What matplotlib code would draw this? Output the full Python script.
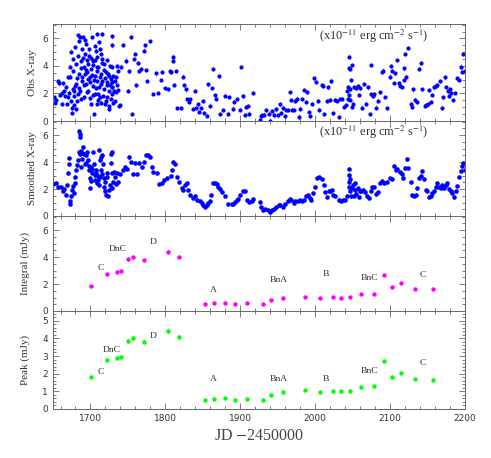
import matplotlib
matplotlib.use("Agg")
import matplotlib.pyplot as plt
from matplotlib.ticker import MultipleLocator

plt.rcParams['mathtext.fontset'] = 'stix'

# ---- observed X-ray flux (x1e-11 erg cm-2 s-1) ----
obs_jd = [
    1651.8, 1652.0, 1653.5, 1656.3, 1657.6, 1659.0, 1661.6, 1662.5, 1663.8, 1665.1,
    1666.0, 1666.9, 1668.2, 1669.6, 1670.5, 1671.4, 1672.7, 1672.7, 1673.5, 1674.0,
    1674.9, 1675.8, 1676.2, 1676.7, 1677.1, 1677.6, 1678.0, 1678.5, 1679.0, 1679.4,
    1680.3, 1680.8, 1681.2, 1681.6, 1682.0, 1683.0, 1683.5, 1683.9, 1684.4, 1684.8,
    1685.3, 1686.1, 1686.6, 1687.0, 1687.5, 1688.0, 1688.4, 1688.9, 1689.3, 1689.8,
    1690.6, 1691.1, 1691.6, 1692.0, 1692.5, 1692.9, 1693.3, 1693.7, 1694.2, 1694.6,
    1695.1, 1695.5, 1696.0, 1696.4, 1696.9, 1697.3, 1697.8, 1698.2, 1698.7, 1699.5,
    1699.9, 1700.4, 1700.9, 1701.3, 1701.8, 1702.2, 1702.7, 1703.1, 1703.6, 1704.0,
    1704.5, 1704.9, 1705.4, 1705.8, 1706.3, 1706.7, 1707.2, 1707.6, 1708.1, 1708.5,
    1709.0, 1709.3, 1709.3, 1709.3, 1710.2, 1710.7, 1710.7, 1711.6, 1711.6, 1712.1,
    1712.5, 1713.0, 1713.8, 1713.8, 1713.8, 1714.7, 1715.1, 1716.0, 1716.0, 1716.0,
    1716.9, 1717.4, 1718.3, 1718.3, 1719.2, 1719.6, 1720.5, 1720.5, 1721.4, 1722.2,
    1722.7, 1722.7, 1723.6, 1724.1, 1725.0, 1725.0, 1725.0, 1725.9, 1726.3, 1727.2,
    1727.2, 1728.1, 1728.5, 1728.5, 1729.4, 1729.4, 1729.4, 1729.4, 1730.3, 1730.7,
    1731.6, 1732.5, 1733.0, 1733.9, 1734.3, 1735.2, 1735.6, 1736.5, 1737.4, 1738.0,
    1739.2, 1740.6,
    1744.0, 1748.0, 1750.0, 1751.0, 1754.0, 1756.0, 1758.0, 1760.0, 1761.0, 1763.0,
    1765.0, 1767.0, 1771.0, 1773.0, 1774.0, 1776.0, 1780.0, 1783.0, 1788.0, 1790.0,
    1794.0, 1796.0, 1800.0, 1803.0, 1806.0, 1808.0, 1810.0, 1810.5, 1811.0, 1814.0,
    1815.0, 1821.0, 1824.0, 1825.0, 1827.0, 1829.0, 1831.0, 1833.0, 1837.0, 1840.0,
    1841.0, 1844.0, 1845.0, 1848.0, 1850.0, 1851.0, 1855.0, 1857.0, 1860.0, 1862.0,
    1864.0, 1866.0, 1868.0, 1871.0, 1873.0, 1877.0, 1880.0, 1883.0, 1885.0, 1890.0,
    1892.0, 1896.0, 1899.0, 1901.5, 1904.0, 1906.0, 1908.0, 1910.0, 1912.3, 1917.6,
    1925.7, 1927.5, 1929.2, 1931.9, 1934.6, 1937.7, 1940.0, 1942.2, 1944.4, 1947.5,
    1949.8, 1952.4, 1954.2, 1956.9, 1959.1, 1960.9, 1963.1, 1965.8, 1967.6, 1969.4,
    1972.1, 1973.4, 1975.6, 1978.8, 1980.1, 1982.8, 1985.5, 1988.1, 1989.0, 1991.3,
    1993.5, 1995.7, 1998.8, 2001.5, 2003.3, 2004.6, 2008.7, 2010.4, 2012.2, 2015.8,
    2017.6, 2020.2, 2021.1, 2023.8, 2026.0, 2029.2, 2031.4, 2033.6, 2035.9, 2038.1,
    2040.8, 2042.6, 2043.4, 2043.9, 2044.8, 2045.2, 2045.7, 2046.1, 2047.0, 2047.0,
    2047.9, 2049.2, 2049.2, 2050.6, 2052.4, 2055.0, 2056.8, 2058.2, 2059.5, 2062.6,
    2065.8, 2068.0, 2071.1, 2072.9, 2074.7, 2075.1, 2077.3, 2079.1, 2080.9, 2083.6,
    2087.2, 2089.4, 2091.2, 2093.0, 2096.1, 2099.7, 2101.4, 2102.8, 2105.0, 2107.2,
    2109.5, 2111.7, 2113.1, 2115.7, 2118.0, 2118.4, 2119.7, 2121.5, 2124.2, 2127.3,
    2128.7, 2130.4, 2133.6, 2136.2, 2138.9, 2141.2, 2143.0, 2146.1, 2147.8, 2150.5,
    2151.9, 2154.1, 2155.4, 2158.5, 2160.8, 2163.0, 2166.1, 2168.8, 2171.0, 2172.8,
    2175.1, 2177.3, 2178.6, 2180.0, 2181.7, 2184.4, 2186.7, 2189.8, 2192.0, 2194.2,
    2196.5, 2197.8, 2199.6,
]
obs_flux = [
    1.76, 1.32, 1.55, 2.88, 2.73, 1.90, 1.22, 2.05, 2.73, 2.20,
    1.83, 2.44, 1.22, 3.17, 1.71, 2.07, 3.95, 3.22, 5.05, 1.46,
    0.98, 0.61, 2.30, 4.50, 3.66, 2.20, 1.15, 1.83, 2.55, 5.37,
    2.68, 0.85, 4.15, 1.46, 3.10, 6.22, 1.95, 4.76, 2.40, 3.42,
    5.80, 6.10, 2.20, 3.85, 4.39, 1.60, 5.24, 2.90, 3.17, 4.60,
    6.10, 3.90, 2.60, 1.71, 3.40, 4.88, 5.90, 2.68, 3.70, 5.61,
    3.54, 2.10, 4.40, 4.15, 3.05, 2.20, 5.20, 4.76, 2.85, 3.17,
    1.65, 1.22, 3.78, 4.55, 6.10, 3.35, 2.56, 1.90, 4.05, 4.39,
    0.49, 2.95, 3.29, 5.45, 1.95, 4.45, 5.12, 2.40, 3.90, 1.22,
    3.60, 6.34, 4.63, 2.93, 1.55, 3.90, 1.95, 5.73, 2.44, 3.20,
    5.24, 1.75, 4.88, 3.42, 1.34, 2.70, 4.20, 6.29, 4.51, 2.93,
    1.83, 3.70, 4.15, 2.32, 1.20, 3.10, 3.54, 1.42, 2.60, 4.45,
    2.81, 1.71, 3.40, 0.85, 3.29, 2.20, 1.10, 2.65, 4.00, 3.05,
    1.59, 2.50, 6.15, 1.95, 5.49, 3.95, 2.81, 2.44, 1.30, 3.25,
    2.20, 1.46, 2.90, 3.17, 2.10, 2.60, 4.03, 2.25, 3.66, 1.07,
    1.17, 3.95,
    5.54, 4.39, 2.20, 3.60, 6.10, 0.49, 4.49, 4.88, 2.60, 4.20,
    3.63, 3.78, 5.12, 5.49, 3.70, 2.90, 5.80, 1.95, 3.46, 2.05,
    2.98, 3.54, 2.41, 2.29, 3.63, 3.56, 4.37, 4.68, 2.60, 3.63,
    0.93, 0.95, 3.22, 2.60, 2.29, 1.59, 1.41, 1.59, 0.88, 2.17,
    0.93, 1.20, 0.66, 0.95, 1.46, 0.56, 0.39, 2.66, 1.12, 2.41,
    3.78, 1.88, 1.63, 3.27, 0.49, 0.78, 1.85, 0.54, 1.76, 0.90,
    1.41, 1.61, 0.83, 3.93, 1.85, 0.44, 1.02, 1.07, 0.54, 2.05,
    0.05, 0.37, 0.41, 0.46, 0.78, 0.54, 0.03, 0.73, 0.41, 0.85,
    0.41, 1.20, 0.59, 0.98, 0.34, 0.78, 0.78, 2.12, 1.51, 0.83,
    0.78, 1.49, 1.63, 0.32, 0.90, 1.61, 2.24, 1.39, 2.12, 0.66,
    0.34, 1.27, 3.10, 2.85, 1.46, 0.83, 2.61, 2.54, 0.49, 1.46,
    2.44, 1.56, 2.93, 0.59, 1.56, 1.46, 0.29, 1.61, 1.63, 1.02,
    1.15, 2.20, 1.63, 2.44, 1.88, 4.68, 3.83, 3.76, 2.29, 1.51,
    2.98, 4.07, 1.02, 1.27, 2.44, 2.37, 2.54, 1.88, 2.37, 0.98,
    2.68, 1.27, 2.44, 0.49, 1.93, 4.05, 1.80, 1.93, 0.98, 1.46,
    2.12, 3.59, 3.66, 1.76, 0.95, 3.22, 4.00, 3.66, 2.78, 3.46,
    4.44, 2.73, 2.54, 2.49, 3.83, 2.98, 4.85, 3.22, 5.29, 1.27,
    1.02, 2.29, 1.56, 1.39, 3.76, 4.20, 2.29, 1.07, 1.15, 1.27,
    2.24, 1.39, 1.88, 2.44, 2.54, 2.61, 2.90, 0.98, 1.71, 3.17,
    2.49, 2.20, 1.80, 2.29, 2.05, 1.51, 2.05, 3.10, 2.98, 3.95,
    3.59, 4.88, 3.66,
]
obs_err = 0.16

# ---- smoothed X-ray flux ----
smooth_jd = [
    1650.0, 1653.6, 1656.7, 1660.3, 1663.4, 1665.0, 1667.0, 1669.2, 1670.1, 1671.0,
    1671.4, 1672.3, 1673.2, 1674.5, 1675.9, 1676.5, 1677.7, 1679.0, 1679.9, 1681.2,
    1682.1, 1683.0, 1684.4, 1684.8, 1685.7, 1685.7, 1686.6, 1687.9, 1689.3, 1690.1,
    1691.5, 1692.4, 1693.7, 1695.5, 1696.8, 1698.2, 1699.1, 1700.0, 1701.3, 1702.6,
    1703.5, 1704.9, 1706.2, 1708.0, 1708.9, 1710.2, 1711.6, 1712.5, 1713.8, 1714.7,
    1716.0, 1716.9, 1717.8, 1719.1, 1720.5, 1721.4, 1723.6, 1724.9, 1727.2, 1728.5,
    1729.4, 1730.3, 1732.5, 1734.8, 1737.4, 1739.2,
    1688.0, 1689.0, 1694.5, 1697.5, 1700.5, 1702.0, 1705.5, 1707.0, 1709.5, 1711.0,
    1713.0, 1715.5, 1718.5, 1720.0, 1722.5, 1726.0, 1727.8, 1729.0, 1731.0, 1733.5,
    1743.7, 1745.9, 1749.0, 1751.7, 1754.0, 1756.2, 1759.3, 1761.5, 1765.1, 1768.2,
    1771.3, 1774.0, 1777.1, 1779.4, 1781.6, 1782.9, 1788.3, 1791.9, 1795.0, 1798.1,
    1801.7, 1807.0, 1808.4, 1810.6, 1812.8, 1815.1, 1818.6, 1821.8, 1824.0, 1826.2,
    1828.4, 1830.7, 1832.9, 1836.5, 1839.6, 1842.7, 1846.3, 1848.5, 1850.7, 1853.0,
    1855.2, 1857.4, 1859.7, 1861.5, 1864.1, 1866.4, 1868.6, 1870.8, 1873.0, 1875.3,
    1879.7, 1884.2, 1888.7, 1890.9, 1893.1, 1895.4, 1897.6, 1899.8, 1904.3, 1906.5,
    1908.7, 1912.3, 1915.4, 1917.6, 1925.7, 1927.5, 1930.1, 1933.3, 1936.4, 1940.0,
    1942.2, 1944.4, 1948.0, 1951.1, 1953.3, 1956.9, 1960.0, 1963.1, 1965.8, 1967.6,
    1971.2, 1973.4, 1976.5, 1979.2, 1982.3, 1985.5, 1988.1, 1990.4, 1992.6, 1994.4,
    1997.1, 2000.2, 2002.4, 2005.5, 2009.1, 2011.3, 2013.6, 2015.8, 2018.0, 2020.2,
    2022.5, 2023.8, 2026.9, 2031.4, 2034.5, 2037.2, 2040.3, 2042.6, 2044.8, 2044.8,
    2045.2, 2045.7, 2046.1, 2047.0, 2047.9, 2049.2, 2050.6, 2051.5, 2052.8, 2053.7,
    2055.0, 2056.8, 2058.2, 2059.5, 2061.3, 2064.0, 2066.2, 2069.3, 2071.5, 2074.7,
    2076.5, 2079.1, 2081.8, 2084.1, 2087.2, 2089.4, 2092.5, 2096.1, 2099.7, 2102.8,
    2105.9, 2107.4, 2109.6, 2113.2, 2115.3, 2117.1, 2119.4, 2122.0, 2123.8, 2127.3,
    2129.5, 2131.8, 2134.0, 2136.2, 2138.5, 2140.7, 2142.9, 2145.2, 2147.4, 2149.6,
    2151.9, 2154.1, 2156.3, 2158.5, 2160.8, 2163.0, 2165.2, 2167.5, 2169.7, 2171.9,
    2174.2, 2176.4, 2178.6, 2180.9, 2183.1, 2185.3, 2187.6, 2189.8, 2192.0, 2194.3,
    2195.6, 2197.8, 2199.6,
]
smooth_flux = [
    2.38, 2.43, 2.14, 2.14, 1.87, 2.00, 1.58, 2.30, 3.16, 3.88,
    4.32, 1.09, 0.92, 1.46, 1.94, 2.20, 1.70, 2.43, 2.91, 3.40,
    3.76, 4.13, 4.73, 6.31, 6.07, 5.83, 4.60, 4.85, 4.25, 5.10,
    4.60, 3.88, 4.49, 4.73, 4.13, 3.40, 2.80, 2.06, 3.64, 3.16,
    4.73, 3.88, 3.03, 3.40, 2.43, 2.67, 4.90, 4.13, 3.40, 4.37,
    4.49, 3.88, 2.18, 1.82, 1.58, 3.16, 1.46, 1.94, 4.60, 4.73,
    3.16, 2.55, 2.91, 3.16, 2.55, 3.10,
    3.60, 4.70, 3.90, 3.70, 2.60, 3.50, 2.70, 3.20, 3.00, 2.30,
    2.90, 3.10, 2.80, 2.50, 2.90, 2.30, 3.90, 2.10, 3.30, 2.40,
    3.40, 3.64, 3.47, 4.37, 4.00, 3.10, 3.93, 3.10, 3.93, 3.64,
    4.00, 4.49, 4.54, 4.37, 3.64, 3.28, 3.16, 2.38, 2.47, 2.67,
    2.79, 2.96, 3.40, 4.00, 3.88, 2.91, 2.55, 2.06, 1.94, 2.30,
    2.43, 1.94, 1.58, 1.33, 1.50, 1.21, 1.09, 0.97, 0.85, 0.68,
    0.78, 0.95, 1.09, 1.58, 2.43, 2.47, 2.38, 2.14, 1.99, 1.75,
    1.50, 0.92, 0.92, 0.92, 1.02, 1.21, 1.26, 1.58, 1.89, 1.87,
    1.21, 1.02, 1.09, 1.26, 1.02, 0.68, 0.44, 0.53, 0.44, 0.29,
    0.44, 0.53, 0.68, 0.78, 0.78, 0.68, 0.92, 1.09, 1.26, 1.21,
    0.97, 1.09, 1.09, 1.17, 1.09, 1.21, 1.50, 1.58, 1.33, 1.21,
    1.70, 2.18, 2.79, 2.86, 2.72, 2.31, 1.75, 1.38, 1.82, 1.82,
    1.94, 1.58, 1.50, 1.17, 1.09, 1.17, 1.21, 1.50, 2.18, 2.55,
    3.03, 3.52, 2.72, 1.82, 1.50, 2.06, 2.31, 1.46, 2.48, 1.94,
    1.65, 2.06, 1.41, 1.89, 1.82, 1.94, 1.75, 1.50, 1.33, 1.82,
    2.18, 2.14, 1.65, 1.75, 2.43, 2.62, 2.48, 2.55, 2.79, 2.72,
    3.69, 3.45, 3.52, 3.28, 3.11, 2.79, 3.59, 4.25, 3.59, 2.55,
    1.58, 1.46, 1.58, 2.06, 2.79, 2.96, 3.35, 2.72, 1.94, 1.89,
    1.41, 1.50, 1.70, 1.82, 2.18, 2.43, 2.18, 2.06, 2.31, 2.06,
    2.31, 2.48, 1.99, 1.82, 1.70, 1.41, 1.89, 2.23, 2.86, 3.35,
    3.69, 3.93, 3.45,
]

# ---- radio components: integral and peak flux (mJy) ----
radio_jd = [1701, 1722, 1735, 1741, 1750, 1757, 1772, 1803, 1818,
            1853, 1865, 1879, 1893, 1909, 1930, 1941, 1957, 1986, 2006,
            2024, 2035, 2047, 2061, 2079, 2092, 2102, 2115, 2133, 2157]
integral = [1.83, 2.72, 2.89, 2.96, 3.83, 3.98, 3.78, 4.39, 4.02,
            0.53, 0.58, 0.60, 0.53, 0.58, 0.51, 0.80, 0.99, 1.06, 0.94,
            1.01, 0.99, 1.01, 1.23, 1.25, 2.70, 1.78, 2.05, 1.66, 1.61]
integral_err = [0.07, 0.12, 0.10, 0.10, 0.16, 0.16, 0.14, 0.18, 0.16,
                0.05, 0.05, 0.05, 0.05, 0.05, 0.05, 0.05, 0.05, 0.05, 0.05,
                0.05, 0.05, 0.05, 0.05, 0.05, 0.10, 0.06, 0.08, 0.06, 0.06]
peak = [1.83, 2.75, 2.90, 2.96, 3.87, 4.00, 3.82, 4.43, 4.05,
        0.53, 0.59, 0.61, 0.53, 0.57, 0.52, 0.80, 0.99, 1.07, 0.95,
        1.03, 1.01, 1.03, 1.24, 1.28, 2.71, 1.79, 2.04, 1.68, 1.64]
peak_err = [0.06, 0.12, 0.11, 0.11, 0.17, 0.17, 0.14, 0.19, 0.18,
            0.04, 0.04, 0.04, 0.04, 0.04, 0.04, 0.04, 0.04, 0.04, 0.04,
            0.04, 0.04, 0.04, 0.04, 0.04, 0.09, 0.05, 0.08, 0.05, 0.05]

comp_names = ['C', 'DnC', 'D', 'A', 'BnA', 'B', 'BnC', 'C']
integral_name_x = [1714, 1736, 1784, 1864, 1951, 2014, 2072, 2144]
integral_name_y = [3.16, 4.63, 5.10, 1.57, 2.27, 2.75, 2.43, 2.65]
peak_name_x = [1714, 1728, 1784, 1864, 1951, 2014, 2072, 2144]
peak_name_y = [2.12, 3.32, 4.12, 1.70, 1.72, 1.72, 2.14, 2.63]

unit_text = r'(x10$^{-11}$ erg cm$^{-2}$ s$^{-1}$)'

SERIF = ['Liberation Serif', 'DejaVu Serif']
TXT = '#333333'
FRAME = '#666666'

fig = plt.figure(figsize=(4.91, 4.58), dpi=100)
left, width = 0.108, 0.839
boxes = [(0.7358, 0.2118), (0.5284, 0.2074), (0.3210, 0.2074), (0.1070, 0.2140)]
axes = [fig.add_axes([left, b, width, h]) for b, h in boxes]

for ax in axes:
    ax.set_xlim(1650, 2200)
    ax.xaxis.set_major_locator(MultipleLocator(100))
    ax.xaxis.set_minor_locator(MultipleLocator(20))
    ax.tick_params(which='both', direction='in', top=True, right=True,
                   colors=FRAME, labelcolor=TXT, labelsize=6.5, width=0.6)
    ax.tick_params(which='major', length=4.5)
    ax.tick_params(which='minor', length=2.2)
    for s in ax.spines.values():
        s.set_color(FRAME)
        s.set_linewidth(0.7)
for ax in axes[:3]:
    ax.set_ylim(0, 7.05)
    ax.yaxis.set_major_locator(MultipleLocator(2))
    ax.yaxis.set_minor_locator(MultipleLocator(0.5))
    ax.tick_params(labelbottom=False)
axes[3].set_ylim(0, 5.55)
axes[3].yaxis.set_major_locator(MultipleLocator(1))
axes[3].yaxis.set_minor_locator(MultipleLocator(0.2))

# panel 1: observed
ax = axes[0]
ax.errorbar(obs_jd, obs_flux, yerr=obs_err, fmt='o', ms=3.0, mew=0, color='#0000ff',
            ecolor='#8c8cff', elinewidth=0.6, capsize=1.4, capthick=0.6)
ax.text(2078, 6.12, unit_text, ha='center', va='center', fontsize=8.8,
        family=SERIF, color=TXT)
ax.set_ylabel('Obs X-ray', family=SERIF, fontsize=8, color=TXT)

# panel 2: smoothed
ax = axes[1]
ax.plot(smooth_jd, smooth_flux, 'o', ms=3.3, mew=0, color='#0000ff')
ax.text(2078, 6.18, unit_text, ha='center', va='center', fontsize=8.8,
        family=SERIF, color=TXT)
ax.set_ylabel('Smoothed X-ray', family=SERIF, fontsize=8, color=TXT)

# panel 3: integral flux
ax = axes[2]
ax.errorbar(radio_jd, integral, yerr=integral_err, fmt='o', ms=3.2, mew=0, color='#ff00ff',
            ecolor='#ff8cff', elinewidth=0.6, capsize=1.4, capthick=0.6)
for name, x, y in zip(comp_names, integral_name_x, integral_name_y):
    ax.text(x, y, name, ha='center', va='center', fontsize=6.8, family=SERIF, color=TXT)
ax.set_ylabel('Integral (mJy)', family=SERIF, fontsize=8, color=TXT)

# panel 4: peak flux
ax = axes[3]
ax.errorbar(radio_jd, peak, yerr=peak_err, fmt='o', ms=3.2, mew=0, color='#00ff00',
            ecolor='#8cff8c', elinewidth=0.6, capsize=1.4, capthick=0.6)
for name, x, y in zip(comp_names, peak_name_x, peak_name_y):
    ax.text(x, y, name, ha='center', va='center', fontsize=6.8, family=SERIF, color=TXT)
ax.set_ylabel('Peak (mJy)', family=SERIF, fontsize=8, color=TXT)
ax.set_xlabel(r'JD $-$2450000', family=SERIF, fontsize=11.5, color='#444444', labelpad=4)

for ax in axes[:2]:
    ax.yaxis.set_label_coords(-0.038, 0.5)
for ax in axes[2:]:
    ax.yaxis.set_label_coords(-0.056, 0.5)

fig.savefig('out.png', dpi=100)
